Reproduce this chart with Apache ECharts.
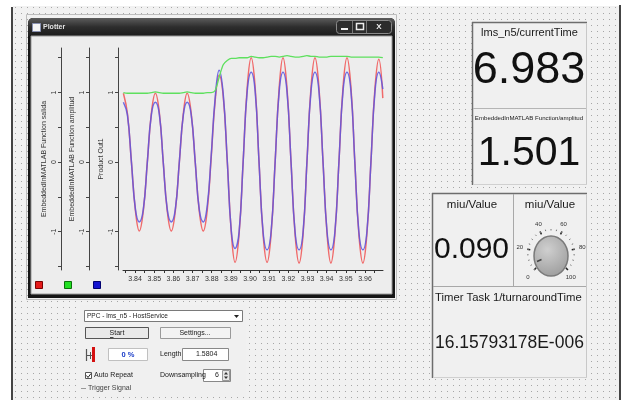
<!DOCTYPE html>
<html><head><meta charset="utf-8">
<script src="https://cdn.jsdelivr.net/npm/echarts@6/dist/echarts.min.js"></script>
<style>
html,body{margin:0;padding:0;background:#fff;}
#bg{position:absolute;left:13px;top:6px;width:606px;height:394px;background-color:#f1f1f1;}
#c{position:absolute;left:0;top:0;width:622px;height:400px;}
</style></head><body>
<div id="bg"></div>
<div id="c"></div>
<script>
// ---- data ----
const times = [3.8339,3.8360,3.8381,3.8402,3.8422,3.8443,3.8464,3.8485,
  3.8506,3.8527,3.8547,3.8568,3.8589,3.8610,3.8631,3.8652,
  3.8672,3.8693,3.8714,3.8735,3.8756,3.8777,3.8797,3.8818,
  3.8839,3.8860,3.8881,3.8902,3.8922,3.8943,3.8964,3.8985,
  3.9006,3.9027,3.9047,3.9068,3.9089,3.9110,3.9131,3.9152,
  3.9172,3.9193,3.9214,3.9235,3.9256,3.9277,3.9297,3.9318,
  3.9339,3.9360,3.9381,3.9402,3.9422,3.9443,3.9464,3.9485,
  3.9506,3.9527,3.9547,3.9568,3.9589,3.9610,3.9631,3.9652,
  3.9672,3.9693];
const salida = [0.99,0.70,0.00,-0.70,-0.99,-0.70,0.00,0.70,
  0.99,0.70,0.00,-0.70,-0.99,-0.70,0.00,0.70,
  0.99,0.70,0.00,-0.70,-0.99,-0.68,0.05,0.88,
  1.25,0.95,0.02,-1.00,-1.44,-1.03,0.00,1.06,
  1.50,1.06,0.00,-1.03,-1.44,-1.03,0.00,1.06,
  1.50,1.06,0.00,-1.03,-1.45,-1.03,0.00,1.06,
  1.50,1.06,0.00,-1.03,-1.45,-1.03,0.00,1.06,
  1.50,1.06,0.00,-1.03,-1.45,-1.03,0.00,1.06,
  1.48,0.92];
const amplitud = [1.00,0.99,0.99,0.99,0.99,0.99,0.99,1.00,
  1.01,1.00,0.99,0.99,0.99,0.99,0.99,1.00,
  1.01,1.00,0.99,0.99,0.99,1.00,1.00,1.03,
  1.22,1.40,1.46,1.49,1.49,1.50,1.50,1.50,
  1.52,1.51,1.50,1.50,1.51,1.52,1.52,1.51,
  1.52,1.53,1.52,1.51,1.51,1.52,1.53,1.52,
  1.52,1.51,1.51,1.51,1.52,1.52,1.52,1.52,
  1.52,1.51,1.51,1.51,1.51,1.51,1.51,1.51,
  1.51,1.50];
const productOut = [0.86,0.68,0.00,-0.68,-0.86,-0.68,0.00,0.68,
  0.86,0.68,0.00,-0.68,-0.86,-0.68,0.00,0.68,
  0.86,0.68,0.00,-0.68,-0.86,-0.62,0.08,0.92,
  1.32,0.98,0.03,-0.98,-1.24,-1.00,0.00,1.01,
  1.29,1.01,0.00,-1.00,-1.26,-1.00,0.00,1.01,
  1.29,1.01,0.00,-1.00,-1.26,-1.00,0.00,1.01,
  1.29,1.01,0.00,-1.00,-1.26,-1.00,0.00,1.01,
  1.29,1.01,0.00,-1.00,-1.26,-1.00,0.00,1.01,
  1.29,1.05];
const xTickLabels = [3.84,3.85,3.86,3.87,3.88,3.89,3.90,3.91,3.92,3.93,3.94,3.95,3.96];
const xTickMarks = [3.835,3.84,3.845,3.85,3.855,3.86,3.865,3.87,3.875,3.88,3.885,3.89,3.895,3.90,3.905,3.91,3.915,3.92,3.925,3.93,3.935,3.94,3.945,3.95,3.955,3.96,3.965];
const yTickLabels = [-1,0,1];
const yTickMarks = [-1.5,-1,-0.5,0,0.5,1,1.5];
const axisNames = ['EmbeddedInMATLAB Function salida','EmbeddedInMATLAB Function amplitud','Product Out1'];
const knobValue = 9;
const currentTime = '6.983', amplitudValue = '1.501', miuValue = '0.090', turnaround = '16.15793178E-006';

// dotted design surface
(function(){
  const pc = document.createElement('canvas'); pc.width = 6; pc.height = 6;
  const g = pc.getContext('2d'); g.fillStyle = '#f1f1f1'; g.fillRect(0,0,6,6);
  g.fillStyle = '#a6a6a6'; g.fillRect(2,1,1,1);
  document.getElementById('bg').style.backgroundImage = 'url(' + pc.toDataURL() + ')';
})();

const FF = '"Liberation Sans", Arial, sans-serif';
const chart = echarts.init(document.getElementById('c'), null, {renderer:'canvas'});

function R(x,y,w,h,style,z,r){ return {type:'rect', z: z==null?-5:z, silent:true, shape:{x:x,y:y,width:w,height:h,r:r||0}, style:style}; }
function L(x1,y1,x2,y2,stroke,w,z){ return {type:'line', z: z==null?-4:z, silent:true, shape:{x1:x1,y1:y1,x2:x2,y2:y2}, style:{stroke:stroke,lineWidth:w||1}}; }
function T(x,y,txt,size,opt){ opt=opt||{}; return {type:'text', z: opt.z==null?-3:opt.z, silent:true, x:x, y:y,
  style:{text:txt, font:(opt.weight||'normal')+' '+size+'px '+FF, fill:opt.fill||'#1a1a1a', textAlign:opt.align||'left', textVerticalAlign:'middle'}}; }

function mkY(offset, name){
  return {type:'value', position:'left', offset:offset, min:-1.55, max:1.64,
    name:name, nameLocation:'middle', nameRotate:90, nameGap:13,
    nameTextStyle:{fontSize:7, color:'#333', fontFamily:FF},
    axisLine:{show:true, onZero:false, lineStyle:{color:'#444', width:1}},
    axisTick:{show:true, customValues:yTickMarks, length:3, lineStyle:{color:'#444'}},
    axisLabel:{customValues:yTickLabels, rotate:90, fontSize:7, color:'#333', margin:3, fontFamily:FF},
    splitLine:{show:false}};
}

const elements = [
  // frame lines of design surface
  R(11,7,2,393,{fill:'#444'}),
  R(619,5,2,395,{fill:'#444'}),
  // window
  R(26.5,14.5,370,285,{fill:'none',stroke:'#bdbdbd',lineWidth:1}),
  R(28,18,367,280,{fill:'#151515'},-5,[5,5,0,0]),
  R(28,18,367,18,{fill:new echarts.graphic.LinearGradient(0,0,0,1,[{offset:0,color:'#5c5c5c'},{offset:0.5,color:'#2d2d2d'},{offset:1,color:'#1c1c1c'}])},-5,[5,5,0,0]),
  R(31,36,361,258,{fill:'#ededed',stroke:'#9a9a9a',lineWidth:1}),
  R(32.5,23.5,8,8,{fill:'#f4f4f4',stroke:'#8890b0',lineWidth:1},-4),
  T(43,27.5,'Plotter',7,{weight:'bold',fill:'#e4e4e4'}),
  R(336.5,20.5,55,13,{fill:'#2c2c2c',stroke:'#8a8a8a',lineWidth:1},-4,3),
  L(352.5,21,352.5,33,'#777',1),
  L(366.5,21,366.5,33,'#777',1),
  R(341,28,7,2,{fill:'#eee'},-3),
  R(356.5,23.5,7,6,{fill:'none',stroke:'#eee',lineWidth:1.5},-3),
  T(379,27,'X',8,{weight:'bold',fill:'#eee',align:'center'}),
  // legend colour squares
  R(35.5,281.5,7,7,{fill:'#e41a1a',stroke:'#7a0000',lineWidth:1},-3),
  R(64.5,281.5,7,7,{fill:'#22e022',stroke:'#0a700a',lineWidth:1},-3),
  R(93.5,281.5,7,7,{fill:'#1414d0',stroke:'#000070',lineWidth:1},-3),
  // control panel
  R(80,305,166,92,{fill:'#f0f0f0'}),
  R(84.5,310.5,158,11,{fill:'#fff',stroke:'#7a7a7a',lineWidth:1},-4),
  T(87,316.5,'PPC - lms_n5 - HostService',6.5,{fill:'#222'}),
  {type:'polygon', z:-3, silent:true, shape:{points:[[234,315],[239,315],[236.5,318]]}, style:{fill:'#222'}},
  R(85.5,327.5,63,11,{fill:'#e9e9e9',stroke:'#555',lineWidth:1},-4),
  T(117,333.5,'Start',7,{align:'center'}),
  L(110,337.5,113.5,337.5,'#222',0.8,-3),
  R(160.5,327.5,70,11,{fill:'#f3f3f3',stroke:'#9a9a9a',lineWidth:1},-4),
  T(195,333.5,'Settings...',7,{align:'center'}),
  L(86.5,349,86.5,361,'#555',1.2),
  L(86,355.5,92,355.5,'#555',1),
  L(90.5,352,90.5,359,'#555',1),
  R(92,347,3,15,{fill:'#d41010'},-3),
  R(108.5,348.5,39,12,{fill:'#fff',stroke:'#c0c0c0',lineWidth:1},-4),
  T(128,354.5,'0 %',7.5,{weight:'bold',fill:'#1a3cc8',align:'center'}),
  T(160,354.5,'Length',7),
  R(182.5,348.5,46,12,{fill:'#fff',stroke:'#888',lineWidth:1},-4),
  T(196,354.5,'1.5804',7),
  R(85.5,372.5,6,6,{fill:'#fff',stroke:'#555',lineWidth:1},-4),
  {type:'polyline', z:-3, silent:true, shape:{points:[[86.5,375.5],[88,377.5],[91,373.5]]}, style:{stroke:'#222',lineWidth:1,fill:'none'}},
  T(94,375.5,'Auto Repeat',7),
  T(160,375.5,'Downsampling',7),
  R(203.5,369.5,27,12,{fill:'#fff',stroke:'#888',lineWidth:1},-4),
  T(219,375.5,'6',7,{align:'right'}),
  R(222.5,370.5,7,10,{fill:'#e6e6e6',stroke:'#999',lineWidth:1},-3),
  {type:'polygon', z:-2, silent:true, shape:{points:[[224,374.5],[228,374.5],[226,372]]}, style:{fill:'#333'}},
  {type:'polygon', z:-2, silent:true, shape:{points:[[224,376.5],[228,376.5],[226,379]]}, style:{fill:'#333'}},
  L(81,388.5,86,388.5,'#999',1),
  T(88,388.5,'Trigger Signal',7,{fill:'#444'}),
  // right displays, group 1
  R(472,22,115,163,{fill:'#f0f0f0'}),
  L(472,22.5,587,22.5,'#6d6d6d',1.5),
  L(472.5,22,472.5,185,'#6d6d6d',1.5),
  L(473,108.5,587,108.5,'#b5b5b5',1),
  L(586.5,23,586.5,185,'#c8c8c8',1),
  L(473,184.5,587,184.5,'#d0d0d0',1),
  T(529.5,33,'lms_n5/currentTime',11,{align:'center'}),
  T(529,71,currentTime,45,{align:'center',fill:'#111'}),
  T(529,118,'EmbeddedInMATLAB Function/amplitud',6.1,{align:'center',fill:'#222'}),
  T(529,154,amplitudValue,41,{align:'center',fill:'#111'}),
  // right displays, group 2
  R(432,193,155,185,{fill:'#f0f0f0'}),
  L(432,193.5,587,193.5,'#6d6d6d',1.5),
  L(432.5,193,432.5,378,'#6d6d6d',1.5),
  L(513.5,194,513.5,286,'#a8a8a8',1),
  L(433,286.5,587,286.5,'#a8a8a8',1),
  L(586.5,194,586.5,378,'#c8c8c8',1),
  L(433,377.5,587,377.5,'#d0d0d0',1),
  T(472,205,'miu/Value',11.5,{align:'center'}),
  T(471.5,250,miuValue,30,{align:'center',fill:'#111'}),
  T(550,205,'miu/Value',11.5,{align:'center'}),
  T(435,298,'Timer Task 1/turnaroundTime',11.3),
  T(435,343.5,turnaround,17.5),
  // knob body
  {type:'ellipse', z:5, silent:true, shape:{cx:551,cy:256,rx:17,ry:20},
    style:{fill:new echarts.graphic.RadialGradient(0.4,0.35,0.8,[{offset:0,color:'#cfcfcf'},{offset:1,color:'#9c9c9c'}]),stroke:'#7a7a7a',lineWidth:1.5}},
  {type:'line', z:6, silent:true, shape:{x1:541.5,y1:259.5,x2:537,y2:261.5}, style:{stroke:'#444',lineWidth:1.5}}
];

const option = {
  animation:false,
  textStyle:{fontFamily:FF},
  grid:{left:123, top:48, width:260, height:222, containLabel:false, outerBoundsMode:'none'},
  xAxis:{type:'value', min:3.8337, max:3.9694,
    axisLine:{show:true, onZero:false, lineStyle:{color:'#333', width:1}},
    axisTick:{show:true, customValues:xTickMarks, length:3, lineStyle:{color:'#333'}},
    axisLabel:{customValues:xTickLabels, formatter:function(v){return (+v).toFixed(2);}, fontSize:7, color:'#333', margin:6, fontFamily:FF},
    splitLine:{show:false}},
  yAxis:[mkY(62,axisNames[0]), mkY(34,axisNames[1]), mkY(5,axisNames[2])],
  graphic:{elements:elements},
  series:[
    {name:axisNames[0], type:'line', yAxisIndex:0, smooth:0.45, symbol:'none',
      lineStyle:{color:'#f06a6a', width:1.5}, data:times.map(function(t,i){return [t,salida[i]];})},
    {name:axisNames[2], type:'line', yAxisIndex:2, smooth:0.45, symbol:'none',
      lineStyle:{color:'#5b55e0', width:1.5, opacity:0.85}, data:times.map(function(t,i){return [t,productOut[i]];})},
    {name:axisNames[1], type:'line', yAxisIndex:1, smooth:0.3, symbol:'none',
      lineStyle:{color:'#5ee05e', width:1.3}, data:times.map(function(t,i){return [t,amplitud[i]];})},
    {type:'gauge', center:[551,253], radius:24, startAngle:225, endAngle:-45, min:0, max:100, splitNumber:5,
      z:4, silent:true,
      axisLine:{show:false, lineStyle:{width:0}},
      progress:{show:false}, pointer:{show:false}, anchor:{show:false},
      title:{show:false}, detail:{show:false},
      splitLine:{show:true, length:3, distance:0, lineStyle:{color:'#222', width:1.5}},
      axisTick:{show:true, splitNumber:4, length:1.5, distance:0, lineStyle:{color:'#777', width:1}},
      axisLabel:{show:true, distance:-14, fontSize:6, color:'#333', fontFamily:FF},
      data:[{value:knobValue}]}
  ]
};
chart.setOption(option);
</script>
</body></html>
